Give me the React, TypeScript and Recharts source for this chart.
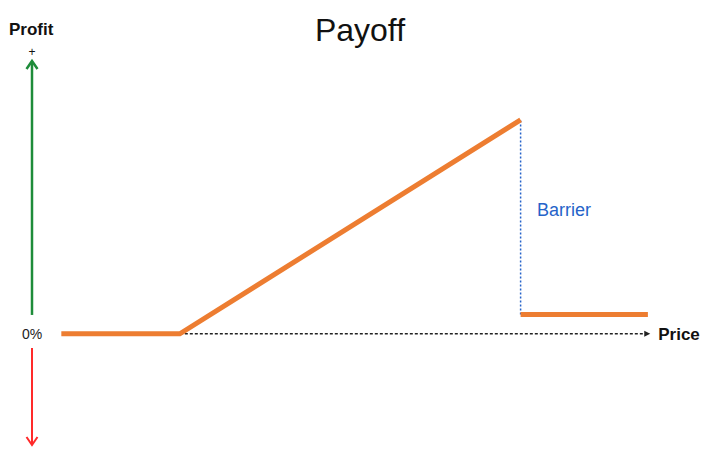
import { LineChart, Line, XAxis, YAxis, ReferenceLine, ReferenceDot, Label } from "recharts";

// payoff profile (price units 0..100, profit in % of max)
const price = [0, 20.2, 78.3, 78.3, 78.3, 100];
const payoff: (number | null)[] = [0, 0, 100, null, 9, 9];

const barrierPrice = 78.3;
const barrierTop = 100;
const barrierBottom = 9;

// axis arrows
const profitAxisX = -5;
const gainArrow = [8.8, 127.5];
const lossArrow = [-6.6, -52];
const priceArrow = [20.2, 100.4];

const data = price.map((p, i) => ({ price: p, payoff: payoff[i] }));

const font = "'Liberation Sans', Arial, sans-serif";

const arrowShape =
    (color: string, width: number, dash: string | undefined, solid: boolean, size: number, half: number) =>
    (props: any) => {
        const { x1, y1, x2, y2 } = props;
        const len = Math.hypot(x2 - x1, y2 - y1) || 1;
        const ux = (x2 - x1) / len;
        const uy = (y2 - y1) / len;
        const nx = -uy;
        const ny = ux;
        const bx = x2 - ux * size;
        const by = y2 - uy * size;
        const pts = `${bx + nx * half},${by + ny * half} ${x2},${y2} ${bx - nx * half},${by - ny * half}`;
        return (
            <g>
                <line
                    x1={x1}
                    y1={y1}
                    x2={solid ? bx : x2 - ux}
                    y2={solid ? by : y2 - uy}
                    stroke={color}
                    strokeWidth={width}
                    strokeDasharray={dash}
                />
                {solid ? (
                    <polygon points={pts} fill={color} />
                ) : (
                    <polyline points={pts} fill="none" stroke={color} strokeWidth={width} />
                )}
            </g>
        );
    };

export default function App() {
    return (
        <div style={{ position: "absolute", left: 0, top: 0, width: 706, height: 453, fontFamily: font, background: "#fff" }}>
            <div style={{ position: "absolute", left: 260, top: 14, width: 200, textAlign: "center", fontSize: 32, lineHeight: "32px", color: "#111" }}>
                Payoff
            </div>
            <div style={{ position: "absolute", left: 9, top: 21, fontSize: 17, fontWeight: "bold", lineHeight: "17px", color: "#111" }}>
                Profit
            </div>
            <div style={{ position: "absolute", left: 22, top: 46, width: 20, textAlign: "center", fontSize: 12, lineHeight: "12px", color: "#111" }}>
                +
            </div>
            <LineChart width={706} height={453} data={data} margin={{ top: 60, right: 54, bottom: 8, left: 32 }}>
                <XAxis dataKey="price" type="number" domain={[-5, 100.7]} hide allowDataOverflow />
                <YAxis type="number" domain={[-52, 128]} hide allowDataOverflow />
                <ReferenceLine
                    segment={[{ x: priceArrow[0], y: 0 }, { x: priceArrow[1], y: 0 }]}
                    shape={arrowShape("#222", 1.5, "3 2", true, 6, 3)}
                    ifOverflow="visible"
                    label={<Label value="Price" position="right" offset={8} fill="#111" fontSize={17} fontWeight="bold" />}
                />
                <ReferenceLine
                    segment={[{ x: profitAxisX, y: gainArrow[0] }, { x: profitAxisX, y: gainArrow[1] }]}
                    shape={arrowShape("#1e8c3a", 2.5, undefined, false, 8, 5.5)}
                    ifOverflow="visible"
                />
                <ReferenceLine
                    segment={[{ x: profitAxisX, y: lossArrow[0] }, { x: profitAxisX, y: lossArrow[1] }]}
                    shape={arrowShape("#ff2a2a", 2, undefined, false, 8, 5.5)}
                    ifOverflow="visible"
                />
                <ReferenceLine
                    segment={[{ x: barrierPrice, y: barrierBottom }, { x: barrierPrice, y: barrierTop }]}
                    stroke="#2563c9"
                    strokeWidth={1.5}
                    strokeDasharray="2 2"
                    ifOverflow="visible"
                />
                <ReferenceDot x={profitAxisX} y={0} r={0} fill="none" stroke="none" ifOverflow="visible"
                    label={<Label value="0%" position="center" fill="#222" fontSize={14} />} />
                <ReferenceDot x={85.7} y={57.9} r={0} fill="none" stroke="none" ifOverflow="visible"
                    label={<Label value="Barrier" position="center" fill="#2563c9" fontSize={18} />} />
                <Line
                    dataKey="payoff"
                    stroke="#ed7d31"
                    strokeWidth={5}
                    dot={false}
                    activeDot={false}
                    type="linear"
                    isAnimationActive={false}
                />
            </LineChart>
        </div>
    );
}
